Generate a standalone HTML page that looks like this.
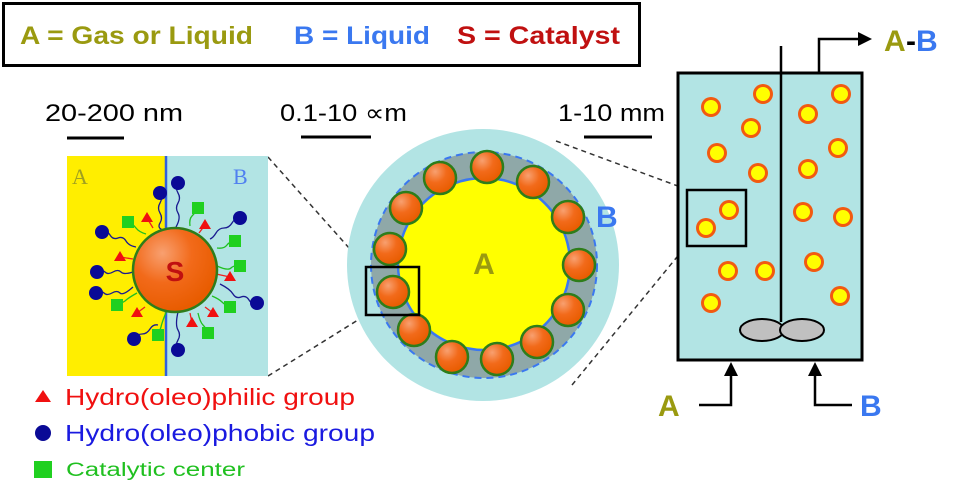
<!DOCTYPE html>
<html><head><meta charset="utf-8"><style>body{margin:0;background:#fff}svg{display:block}text{font-family:"Liberation Sans",sans-serif}</style></head><body>
<svg width="974" height="504" viewBox="0 0 974 504" xmlns="http://www.w3.org/2000/svg">
<defs>
<radialGradient id="og" cx="35%" cy="30%" r="70%"><stop offset="0" stop-color="#f8a070"/><stop offset="0.5" stop-color="#f26a1a"/><stop offset="1" stop-color="#e85c00"/></radialGradient>
<g id="p"><circle r="10" fill="#f25a10"/><circle r="7" fill="#ffff00"/></g>
<g id="bead"><circle r="16" fill="url(#og)" stroke="#2e7d1a" stroke-width="2.5"/></g>
</defs>
<!-- header -->
<rect x="3.5" y="3.5" width="636" height="62" fill="#fff" stroke="#000" stroke-width="3"/>
<text x="20" y="44" font-size="25" font-weight="bold" fill="#9a9a10" textLength="233" lengthAdjust="spacingAndGlyphs">A = Gas or Liquid</text>
<text x="294" y="44" font-size="25" font-weight="bold" fill="#3a78f0" textLength="136" lengthAdjust="spacingAndGlyphs">B = Liquid</text>
<text x="457" y="44" font-size="25" font-weight="bold" fill="#c01010" textLength="163" lengthAdjust="spacingAndGlyphs">S = Catalyst</text>
<!-- scale labels -->
<text x="45" y="121" font-size="24" fill="#000" textLength="138" lengthAdjust="spacingAndGlyphs">20-200 nm</text>
<line x1="67" y1="138" x2="124" y2="138" stroke="#000" stroke-width="3"/>
<text x="280" y="121" font-size="24" fill="#000" textLength="127" lengthAdjust="spacingAndGlyphs">0.1-10 ∝m</text>
<line x1="301" y1="137" x2="371" y2="137" stroke="#000" stroke-width="3"/>
<text x="558" y="121" font-size="24" fill="#000" textLength="107" lengthAdjust="spacingAndGlyphs">1-10 mm</text>
<line x1="584" y1="137" x2="652" y2="137" stroke="#000" stroke-width="3"/>
<!-- dashed connectors -->
<g stroke="#333" stroke-width="1.5" stroke-dasharray="5,4" fill="none">
<line x1="268" y1="157" x2="366" y2="267"/>
<line x1="268" y1="376" x2="366" y2="315"/>
<line x1="556" y1="141" x2="686" y2="189"/>
<line x1="572" y1="385" x2="686" y2="246"/>
</g>
<!-- left panel -->
<rect x="67" y="156" width="99" height="220" fill="#ffee00"/>
<rect x="166" y="156" width="102" height="220" fill="#b2e4e4"/>
<line x1="166" y1="156" x2="166" y2="376" stroke="#3060e0" stroke-width="2.5"/>
<text x="72" y="184" font-size="22" fill="#a0a020" style="font-family:'Liberation Serif',serif">A</text>
<text x="233" y="184" font-size="22" fill="#5080f0" style="font-family:'Liberation Serif',serif">B</text>
<g fill="none" stroke-width="1.3">
<g stroke="#1a1a90">
<path d="M160 193 q3 5 0 10 q-3 5 0 10 q3 5 0 10 q-3 5 3 7"/>
<path d="M178 183 q-3 5 0 10 q3 5 0 10 q-3 5 0 10 q3 5 -2 14"/>
<path d="M240 218 q-5 0 -8 5 q-3 5 -8 5 q-5 0 -8 5 q-3 5 -6 6"/>
<path d="M102 232 q5 -2 8 3 q3 5 8 3 q5 -2 8 3 q3 5 10 6"/>
<path d="M97 272 q5 -3 8 0 q3 3 8 0 q5 -3 8 0 q3 3 12 0"/>
<path d="M96 293 q5 -3 8 0 q3 3 8 0 q5 -3 8 0 q3 3 13 -6"/>
<path d="M257 303 q-5 2 -8 -3 q-3 -5 -8 -3 q-5 2 -8 -3 q-3 -5 -13 -10"/>
<path d="M134 339 q3 -5 8 -5 q5 0 8 -5 q3 -5 8 -4"/>
<path d="M178 350 q-3 -5 0 -10 q3 -5 0 -10 q-3 -5 0 -18"/>
</g>
<g stroke="#20c020">
<path d="M128 222 q5 2 8 6 q3 4 10 6"/><path d="M198 208 q-3 5 -6 8 q-3 3 -2 10"/>
<path d="M235 241 q-5 0 -8 4 q-3 4 -10 3"/><path d="M240 266 q-6 -1 -9 2 q-3 3 -14 -2"/>
<path d="M230 307 q-5 -2 -8 -5 q-3 -3 -10 -6"/><path d="M208 333 q-2 -5 -5 -8 q-3 -3 -5 -12"/>
<path d="M117 305 q5 -2 8 -4 q3 -3 12 -8"/><path d="M158 335 q2 -5 3 -8 q1 -5 6 -17"/>
</g>
<g stroke="#f02020">
<path d="M147 218 l6 10"/><path d="M205 225 l-6 8"/><path d="M120 257 l13 2"/><path d="M230 277 l-14 -3"/>
<path d="M213 313 l-8 -6"/><path d="M192 323 l-2 -10"/><path d="M137 313 l8 -6"/>
</g>
</g>
<circle cx="175" cy="270" r="42" fill="url(#og)" stroke="#2e7d1a" stroke-width="2.5"/>
<text x="175" y="281" font-size="28" font-weight="bold" fill="#c01010" text-anchor="middle">S</text>
<g fill="#0a0a96">
<circle cx="160" cy="193" r="7"/><circle cx="178" cy="183" r="7"/><circle cx="240" cy="218" r="7"/>
<circle cx="102" cy="232" r="7"/><circle cx="97" cy="272" r="7"/><circle cx="96" cy="293" r="7"/>
<circle cx="257" cy="303" r="7"/><circle cx="134" cy="339" r="7"/><circle cx="178" cy="350" r="7"/>
</g>
<g fill="#20d020">
<rect x="122" y="216" width="12" height="12"/><rect x="192" y="202" width="12" height="12"/>
<rect x="229" y="235" width="12" height="12"/><rect x="234" y="260" width="12" height="12"/>
<rect x="224" y="301" width="12" height="12"/><rect x="202" y="327" width="12" height="12"/>
<rect x="111" y="299" width="12" height="12"/><rect x="152" y="329" width="12" height="12"/>
</g>
<g fill="#f01010">
<path d="M147 212 l6 10 h-12z"/><path d="M205 219 l6 10 h-12z"/><path d="M120 251 l6 10 h-12z"/>
<path d="M230 271 l6 10 h-12z"/><path d="M213 307 l6 10 h-12z"/><path d="M192 317 l6 10 h-12z"/><path d="M137 307 l6 10 h-12z"/>
</g>
<!-- middle circle -->
<circle cx="483" cy="265" r="136" fill="#b2e4e4"/>
<circle cx="484" cy="265" r="113" fill="#8fa8a8" stroke="#3a78f0" stroke-width="2" stroke-dasharray="7,5"/>
<circle cx="484" cy="264" r="86" fill="#ffff00" stroke="#3a78f0" stroke-width="2.5"/>
<g>
<use href="#bead" x="487" y="167"/><use href="#bead" x="533" y="182"/><use href="#bead" x="568" y="217"/>
<use href="#bead" x="579" y="265"/><use href="#bead" x="568" y="310"/><use href="#bead" x="537" y="342"/>
<use href="#bead" x="497" y="359"/><use href="#bead" x="452" y="357"/><use href="#bead" x="414" y="330"/>
<use href="#bead" x="393" y="292"/><use href="#bead" x="390" y="249"/><use href="#bead" x="406" y="208"/>
<use href="#bead" x="440" y="178"/>
</g>
<text x="484" y="274" font-size="30" font-weight="bold" fill="#9a9a10" text-anchor="middle">A</text>
<text x="596" y="227" font-size="30" font-weight="bold" fill="#3a78f0">B</text>
<rect x="366" y="267" width="53" height="48" fill="none" stroke="#000" stroke-width="2.5"/>
<!-- reactor -->
<rect x="678" y="73" width="184" height="287" fill="#b2e4e4" stroke="#000" stroke-width="3"/>
<line x1="781" y1="46" x2="781" y2="322" stroke="#000" stroke-width="2.5"/>
<polyline points="819,73 819,39 860,39" fill="none" stroke="#000" stroke-width="2.5"/>
<path d="M872 39 l-14 -7 v14z" fill="#000"/>
<text x="884" y="51" font-size="30" font-weight="bold" fill="#9a9a10">A</text>
<text x="906" y="51" font-size="30" font-weight="bold" fill="#000">-</text>
<text x="916" y="51" font-size="30" font-weight="bold" fill="#3a78f0">B</text>
<g>
<use href="#p" x="711" y="107"/><use href="#p" x="763" y="94"/><use href="#p" x="751" y="128"/>
<use href="#p" x="717" y="153"/><use href="#p" x="758" y="173"/><use href="#p" x="729" y="210"/>
<use href="#p" x="706" y="228"/><use href="#p" x="728" y="271"/><use href="#p" x="765" y="271"/>
<use href="#p" x="711" y="303"/><use href="#p" x="841" y="94"/><use href="#p" x="808" y="114"/>
<use href="#p" x="838" y="148"/><use href="#p" x="808" y="169"/><use href="#p" x="803" y="212"/>
<use href="#p" x="843" y="217"/><use href="#p" x="814" y="262"/><use href="#p" x="840" y="296"/>
</g>
<rect x="687" y="190" width="59" height="56" fill="none" stroke="#000" stroke-width="2.5"/>
<ellipse cx="762" cy="330" rx="22" ry="11" fill="#c0c0c0" stroke="#000" stroke-width="2"/>
<ellipse cx="802" cy="330" rx="22" ry="11" fill="#c0c0c0" stroke="#000" stroke-width="2"/>
<polyline points="699,405 731,405 731,374" fill="none" stroke="#000" stroke-width="2.5"/>
<path d="M731 362 l-7 14 h14z" fill="#000"/>
<polyline points="852,405 815,405 815,374" fill="none" stroke="#000" stroke-width="2.5"/>
<path d="M815 362 l-7 14 h14z" fill="#000"/>
<text x="658" y="416" font-size="30" font-weight="bold" fill="#9a9a10">A</text>
<text x="860" y="416" font-size="30" font-weight="bold" fill="#3a78f0">B</text>
<!-- legend -->
<path d="M43 390 l8 12 h-16z" fill="#f01010"/>
<text x="65" y="405" font-size="23" fill="#f01010" textLength="290" lengthAdjust="spacingAndGlyphs">Hydro(oleo)philic group</text>
<circle cx="43" cy="433" r="8" fill="#0a0a96"/>
<text x="65" y="441" font-size="23" fill="#1a1ae0" textLength="310" lengthAdjust="spacingAndGlyphs">Hydro(oleo)phobic group</text>
<rect x="34" y="461" width="18" height="17" fill="#20d020"/>
<text x="66" y="476" font-size="19" fill="#20c020" textLength="179" lengthAdjust="spacingAndGlyphs">Catalytic center</text>
</svg>
</body></html>
